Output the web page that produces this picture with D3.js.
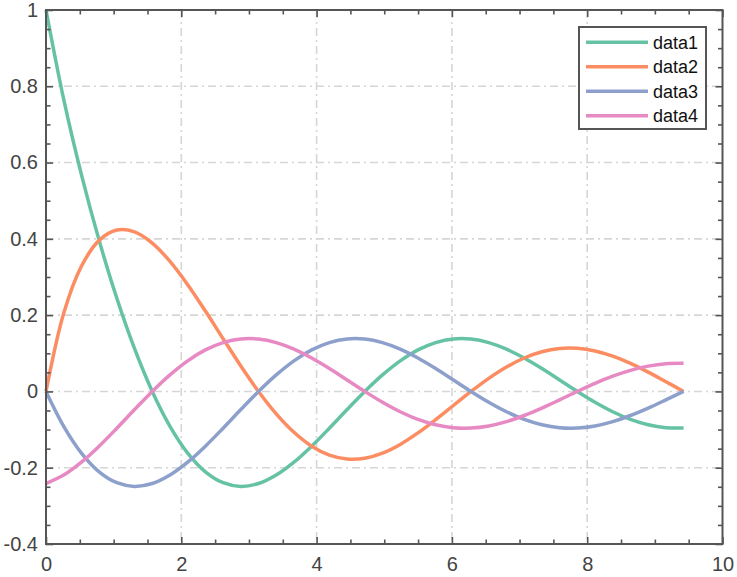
<!DOCTYPE html>
<html>
<head>
<meta charset="utf-8">
<script src="https://cdn.jsdelivr.net/npm/d3@7"></script>
<style>
  html, body { margin: 0; padding: 0; background: #fff; }
  svg { display: block; }
</style>
</head>
<body>
<svg id="chart" width="737" height="577"></svg>
<script>
// ---- data ----
const xValues = [0, 0.2618, 0.5236, 0.7854, 1.0472, 1.3090, 1.5708, 1.8326, 2.0944, 2.3562,
  2.6180, 2.8798, 3.1416, 3.4034, 3.6652, 3.9270, 4.1888, 4.4506, 4.7124, 4.9742,
  5.2360, 5.4978, 5.7596, 6.0214, 6.2832, 6.5450, 6.8068, 7.0686, 7.3304, 7.5922,
  7.8540, 8.1158, 8.3776, 8.6394, 8.9012, 9.1630, 9.4248];

const data1 = [1, 0.7655, 0.5684, 0.3960, 0.2442, 0.1121, 0, -0.0914, -0.1616, -0.2107,
  -0.2394, -0.2490, -0.2415, -0.2194, -0.1856, -0.1435, -0.0964, -0.0475, 0, 0.0433,
  0.0802, 0.1088, 0.1281, 0.1376, 0.1373, 0.1280, 0.1109, 0.0876, 0.0600, 0.0301,
  0, -0.0284, -0.0533, -0.0734, -0.0875, -0.0950, -0.0959];

const data2 = [0, 0.2051, 0.3282, 0.3960, 0.4230, 0.4183, 0.3890, 0.3410, 0.2799, 0.2107,
  0.1382, 0.0667, 0, -0.0588, -0.1072, -0.1435, -0.1669, -0.1772, -0.1751, -0.1617,
  -0.1389, -0.1088, -0.0740, -0.0369, 0, 0.0343, 0.0640, 0.0876, 0.1040, 0.1124,
  0.1129, 0.1060, 0.0923, 0.0734, 0.0505, 0.0255, 0];

const data3 = [0, -0.0914, -0.1616, -0.2107, -0.2394, -0.2490, -0.2415, -0.2194, -0.1856, -0.1435,
  -0.0964, -0.0475, 0, 0.0433, 0.0802, 0.1088, 0.1281, 0.1376, 0.1373, 0.1280,
  0.1109, 0.0876, 0.0600, 0.0301, 0, -0.0284, -0.0533, -0.0734, -0.0875, -0.0950,
  -0.0959, -0.0904, -0.0791, -0.0631, -0.0436, -0.0221, 0];

const data4 = [-0.2415, -0.2194, -0.1856, -0.1435, -0.0964, -0.0475, 0, 0.0433, 0.0802, 0.1088,
  0.1281, 0.1376, 0.1373, 0.1280, 0.1109, 0.0876, 0.0600, 0.0301, 0, -0.0284,
  -0.0533, -0.0734, -0.0875, -0.0950, -0.0959, -0.0904, -0.0791, -0.0631, -0.0436, -0.0221,
  0, 0.0211, 0.0399, 0.0553, 0.0664, 0.0726, 0.0737];

const seriesNames = ["data1", "data2", "data3", "data4"];
const seriesColors = ["#66c2a5", "#fc8d62", "#8da0cb", "#e78ac3"];
const xTickValues = [0, 2, 4, 6, 8, 10];
const yTickValues = [-0.4, -0.2, 0, 0.2, 0.4, 0.6, 0.8, 1];
const xMinorStep = 0.5;
const yMinorStep = 0.05;

// ---- layout ----
const svg = d3.select("#chart");
const L = 46, R = 722.5, T = 10, B = 544;
const x = d3.scaleLinear().domain([0, 10]).range([L, R]);
const y = d3.scaleLinear().domain([-0.4, 1]).range([B, T]);
const axisColor = "#555555";
const labelColor = "#444444";
const font = "'Liberation Sans', Arial, Helvetica, sans-serif";

const xMinor = d3.range(0, 10 + 1e-9, xMinorStep);
const yMinor = d3.range(-0.4, 1 + 1e-9, yMinorStep);

// grid
const grid = svg.append("g");
grid.selectAll(".gx").data(xTickValues.slice(1, -1)).join("line")
  .attr("x1", d => x(d)).attr("x2", d => x(d)).attr("y1", T).attr("y2", B)
  .attr("stroke", "#d6d6d6").attr("stroke-width", 1.6).attr("stroke-dasharray", "8,4,2,4");
grid.selectAll(".gy").data(yTickValues.slice(1, -1)).join("line")
  .attr("y1", d => y(d)).attr("y2", d => y(d)).attr("x1", L).attr("x2", R)
  .attr("stroke", "#d6d6d6").attr("stroke-width", 1.6).attr("stroke-dasharray", "8,4,2,4");

// lines
const line = d3.line().x(d => x(d[0])).y(d => y(d[1])).curve(d3.curveCatmullRom.alpha(0.5));
const allSeries = [data1, data2, data3, data4];
allSeries.forEach((s, i) => {
  svg.append("path")
    .datum(xValues.map((xv, j) => [xv, s[j]]))
    .attr("fill", "none")
    .attr("stroke", seriesColors[i])
    .attr("stroke-width", 3.5)
    .attr("stroke-linejoin", "round")
    .attr("stroke-linecap", "butt")
    .attr("d", line);
});

// axes (box with inward ticks on all sides)
const isMajor = (v, arr) => arr.some(t => Math.abs(t - v) < 1e-6);
function addAxis(axisGen, transform, vals, majors, showLabels, fmt) {
  const g = svg.append("g").attr("transform", transform)
    .call(axisGen.tickValues(vals).tickSizeOuter(0).tickFormat(d => (showLabels && isMajor(d, majors)) ? fmt(d) : ""));
  g.select(".domain").remove();
  g.selectAll(".tick line").attr("stroke", axisColor).attr("stroke-width", 1.6);
  g.selectAll(".tick text").attr("fill", labelColor).style("font-family", font).style("font-size", "20px");
  return g;
}
const fmtY = d => { const r = Math.round(d * 10) / 10; return r === 0 ? "0" : String(r); };
const fmtX = d => String(Math.round(d));

function tickAxes(side) {
  const isX = side === "bottom" || side === "top";
  const vals = isX ? xMinor : yMinor;
  const majors = isX ? xTickValues : yTickValues;
  const scale = isX ? x : y;
  const gen = { bottom: d3.axisBottom, top: d3.axisTop, left: d3.axisLeft, right: d3.axisRight }[side](scale);
  const tr = { bottom: `translate(0,${B})`, top: `translate(0,${T})`, left: `translate(${L},0)`, right: `translate(${R},0)` }[side];
  const g = addAxis(gen.tickSize(0).tickPadding(isX ? 10 : 8), tr, vals, majors, side === "bottom" || side === "left", isX ? fmtX : fmtY);
  g.selectAll(".tick").each(function(d) {
    const len = isMajor(d, majors) ? 7 : 4.5;
    const ln = d3.select(this).select("line");
    if (side === "bottom") ln.attr("y2", -len);
    if (side === "top") ln.attr("y2", len);
    if (side === "left") ln.attr("x2", len);
    if (side === "right") ln.attr("x2", -len);
  });
  if (side === "bottom") g.selectAll(".tick text").attr("dy", "0.71em").attr("y", 13);
  if (side === "left") g.selectAll(".tick text").attr("x", -8);
}
["bottom", "top", "left", "right"].forEach(tickAxes);

// box
svg.append("rect").attr("x", L).attr("y", T).attr("width", R - L).attr("height", B - T)
  .attr("fill", "none").attr("stroke", axisColor).attr("stroke-width", 2);

// legend
const lg = svg.append("g");
const lgX = 579, lgY = 27, lgW = 127, lgH = 102;
lg.append("rect").attr("x", lgX).attr("y", lgY).attr("width", lgW).attr("height", lgH)
  .attr("fill", "#fff").attr("stroke", axisColor).attr("stroke-width", 2);
seriesNames.forEach((name, i) => {
  const yy = 42.3 + i * 24.5;
  lg.append("line").attr("x1", 586).attr("x2", 648).attr("y1", yy).attr("y2", yy)
    .attr("stroke", seriesColors[i]).attr("stroke-width", 3.5);
  lg.append("text").attr("x", 653).attr("y", yy).attr("dy", "0.35em")
    .style("font-family", font).style("font-size", "18px").attr("fill", "#111")
    .text(name);
});
</script>
</body>
</html>
